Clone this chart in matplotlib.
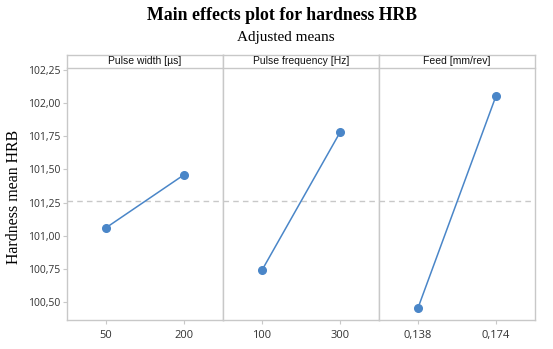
import matplotlib.pyplot as plt
from matplotlib.ticker import FixedLocator

factors = ["Pulse width [µs]", "Pulse frequency [Hz]", "Feed [mm/rev]"]
levels = [["50", "200"], ["100", "300"], ["0,138", "0,174"]]
means = [[101.06, 101.46], [100.74, 101.78], [100.455, 102.055]]
grand_mean = 101.26
yticks = [100.50, 100.75, 101.00, 101.25, 101.50, 101.75, 102.00, 102.25]


def main():
    fig = plt.figure(figsize=(5.53, 3.49), dpi=100)
    W, H = 553, 349
    left, right, top, bottom = 67, 535, 55, 320
    ymin, ymax = 100.364, 102.364
    header = 1 - 13 / (bottom - top)
    line_col = "#4a86c8"
    grey = "#c8c8c8"

    pw = (right - left) / 3
    axes = []
    for i in range(3):
        ax = fig.add_axes([(left + i * pw) / W, 1 - bottom / H, pw / W, (bottom - top) / H])
        axes.append(ax)
        x = [1, 2]
        ax.plot(x, means[i], color=line_col, lw=1.1, marker="o", ms=5.5, zorder=3)
        ax.axhline(grand_mean, color="#c8c8c8", lw=1.0, ls=(0, (4, 3)), zorder=1)
        ax.set_xlim(0.5, 2.5)
        ax.set_ylim(ymin, ymax)
        ax.set_xticks(x)
        ax.set_xticklabels(levels[i], fontsize=8, color="#333333", family="Open Sans")
        ax.yaxis.set_major_locator(FixedLocator(yticks))
        for s in ax.spines.values():
            s.set_color(grey)
            s.set_linewidth(1.0)
        ax.tick_params(axis="x", length=3, color=grey, pad=4)
        if i == 0:
            ax.set_yticklabels([f"{v:.2f}".replace(".", ",") for v in yticks],
                               fontsize=7.5, color="#333333", family="Open Sans")
            ax.tick_params(axis="y", length=3, color=grey, pad=2)
        else:
            ax.tick_params(axis="y", left=False, labelleft=False)
        ax.plot([0, 1], [header, header], transform=ax.transAxes, color=grey, lw=1.0, clip_on=False)
        ax.text(0.5, (1 + header) / 2 + 0.002, factors[i], transform=ax.transAxes,
                ha="center", va="center", fontsize=7.5, family="Liberation Sans", color="#111111")

    axes[0].set_ylabel("Hardness mean HRB", family="Liberation Serif", fontsize=11.4)
    axes[0].yaxis.set_label_coords((22 - left) / pw, (bottom - 197) / (bottom - top))
    fig.text(282 / W, 1 - 16 / H, "Main effects plot for hardness HRB",
             ha="center", va="center", family="Liberation Serif", fontweight="bold", fontsize=12.8)
    fig.text(286 / W, 1 - 37 / H, "Adjusted means",
             ha="center", va="center", family="Liberation Serif", fontsize=11)

    fig.savefig("out.png", dpi=100)


if __name__ == "__main__":
    main()
